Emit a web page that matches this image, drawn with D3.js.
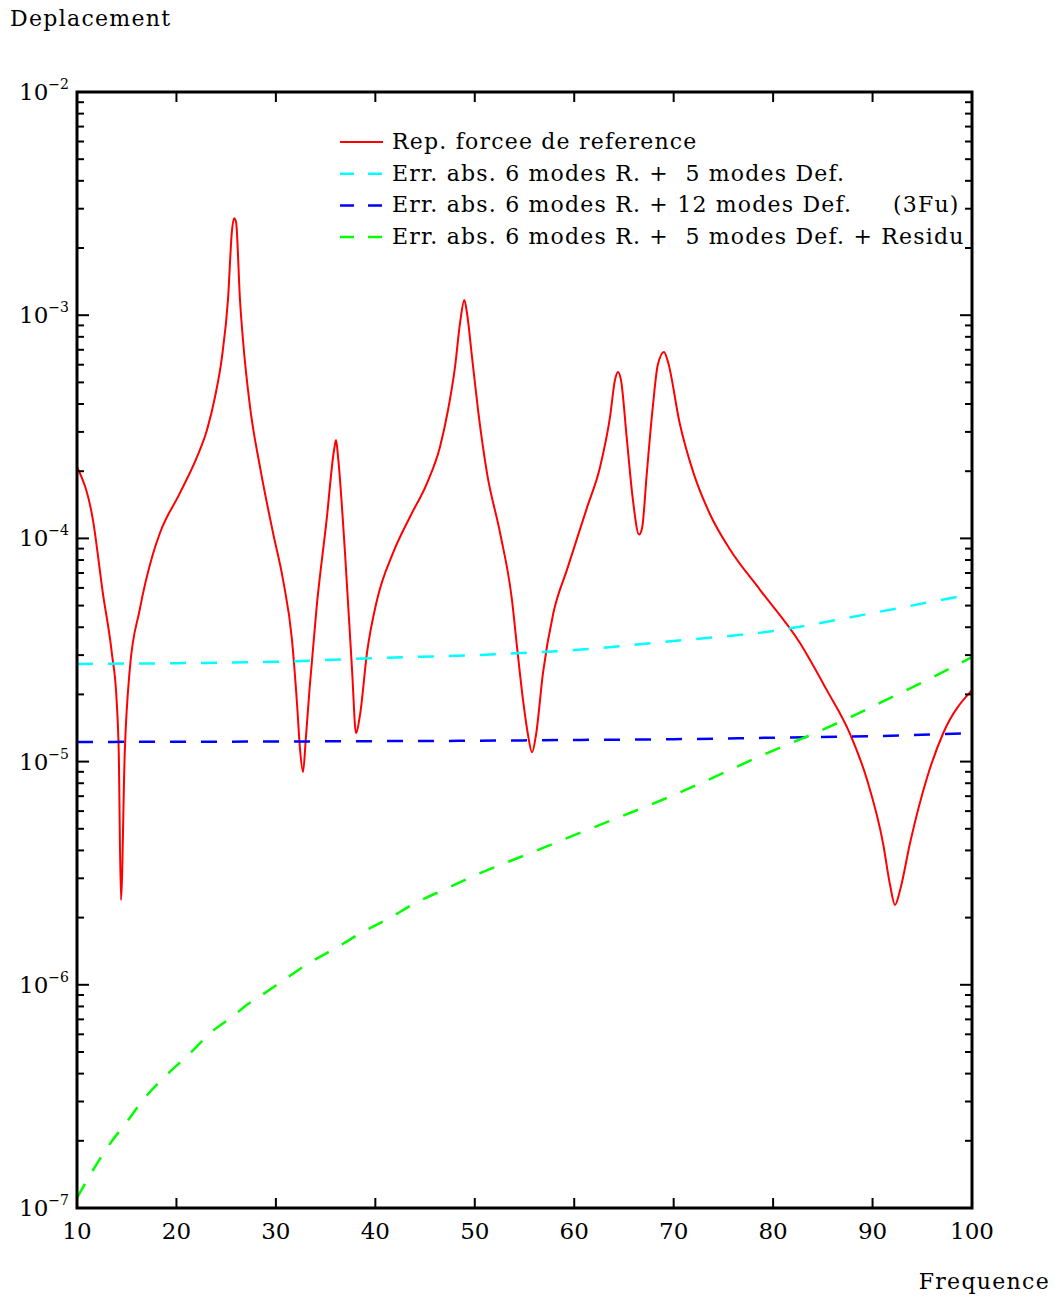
<!DOCTYPE html>
<html>
<head>
<meta charset="utf-8">
<script src="https://cdn.jsdelivr.net/npm/d3@7"></script>
<style>
  body { margin: 0; background: #fff; }
  text { font-family: "DejaVu Serif", serif; fill: #000; }
</style>
</head>
<body>
<div id="chart"></div>
<script>
// frequences (Hz) and reference response
let freqRef = [10, 11.6, 12.6, 13.5, 14.0, 14.2, 14.42, 14.8, 15.3, 16.3, 17.6, 18.35, 20.36, 22.07, 23.07, 23.88, 24.58, 25.18, 25.59, 25.79, 25.99, 26.39, 26.69, 27.4, 28.4, 29.71, 30.72, 31.62, 32.12, 32.43, 32.73, 33.0, 33.4, 34.1, 35.1, 35.85, 36.05, 36.25, 36.95, 37.66, 38.06, 38.46, 39.16, 40.17, 41.78, 43.49, 45.2, 46.5, 47.31, 48.01, 48.52, 48.95, 49.22, 49.72, 50.33, 51.23, 52.54, 53.74, 54.25, 54.85, 55.35, 55.76, 56.16, 56.86, 57.9, 59.3, 61.3, 62.6, 63.6, 64.1, 64.4, 64.7, 65.3, 65.9, 66.52, 66.82, 67.3, 67.9, 68.4, 69.03, 69.43, 70.6, 72.0, 73.7, 75.7, 78.7, 82.7, 85.4, 87.7, 89.45, 91.05, 91.76, 92.26, 92.77, 93.77, 95.5, 97.1, 100]
let repRef = [2.09e-4, 1.21e-4, 5.69e-5, 3.07e-5, 1.83e-5, 1.09e-5, 2.40e-6, 1.09e-5, 2.57e-5, 4.78e-5, 8.4e-5, 1.06e-4, 1.60e-4, 2.32e-4, 3.06e-4, 4.31e-4, 6.50e-4, 1.17e-3, 2.41e-3, 2.72e-3, 2.62e-3, 1.17e-3, 7.74e-4, 3.88e-4, 2.09e-4, 1.06e-4, 6.52e-5, 3.51e-5, 1.83e-5, 1.13e-5, 8.97e-6, 1.25e-5, 2.16e-5, 4.93e-5, 1.21e-4, 2.49e-4, 2.76e-4, 2.32e-4, 8.61e-5, 2.57e-5, 1.34e-5, 1.62e-5, 3.07e-5, 5.30e-5, 8.61e-5, 1.25e-4, 1.77e-4, 2.57e-4, 3.76e-4, 5.86e-4, 9.23e-4, 1.17e-3, 1.02e-3, 6.5e-4, 3.76e-4, 1.96e-4, 1.06e-4, 5.30e-5, 3.26e-5, 1.89e-5, 1.32e-5, 1.10e-5, 1.32e-5, 2.50e-5, 4.63e-5, 7.3e-5, 1.38e-4, 2.09e-4, 3.50e-4, 5.13e-4, 5.57e-4, 5.13e-4, 2.76e-4, 1.49e-4, 1.04e-4, 1.11e-4, 1.96e-4, 3.88e-4, 5.98e-4, 6.84e-4, 6.17e-4, 3.29e-4, 1.96e-4, 1.27e-4, 8.87e-5, 5.87e-5, 3.40e-5, 2.09e-5, 1.34e-5, 8.28e-6, 4.32e-6, 2.80e-6, 2.28e-6, 2.66e-6, 4.32e-6, 8.53e-6, 1.34e-5, 2.09e-5]

// erreurs absolues
let freqErr = [10, 20, 30, 40, 50, 60, 70, 80, 90, 100]
let err5 = [2.74e-5, 2.76e-5, 2.80e-5, 2.91e-5, 3.0e-5, 3.16e-5, 3.47e-5, 3.85e-5, 4.63e-5, 5.64e-5]
let err12 = [1.225e-5, 1.227e-5, 1.23e-5, 1.235e-5, 1.24e-5, 1.25e-5, 1.26e-5, 1.28e-5, 1.30e-5, 1.34e-5]
let freqRes = [10, 11.5, 13.2, 15, 16.8, 19, 21.3, 23.4, 26.1, 26.8, 28.3, 30.8, 33.3, 36, 38.7, 41.4, 44, 47, 50, 55, 60, 70, 80, 84, 88, 92, 96, 100]
let errRes = [1.11e-7, 1.45e-7, 1.91e-7, 2.43e-7, 3.11e-7, 3.94e-7, 4.90e-7, 6.08e-7, 7.48e-7, 7.96e-7, 8.82e-7, 1.05e-6, 1.25e-6, 1.46e-6, 1.72e-6, 1.99e-6, 2.32e-6, 2.68e-6, 3.09e-6, 3.80e-6, 4.68e-6, 7.08e-6, 1.12e-5, 1.33e-5, 1.60e-5, 1.95e-5, 2.38e-5, 2.94e-5]

let legendLabels = ["Rep. forcee de reference", "Err. abs. 6 modes R. +  5 modes Def.", "Err. abs. 6 modes R. + 12 modes Def.", "Err. abs. 6 modes R. +  5 modes Def. + Residu"]
let xTicks = [10, 20, 30, 40, 50, 60, 70, 80, 90, 100]
let yExps = [-2, -3, -4, -5, -6, -7]

let margin = { top: 92, right: 85, bottom: 90, left: 77 }
let width = 1057 - margin.left - margin.right
let height = 1298 - margin.top - margin.bottom

let svg = d3.select("#chart").append("svg")
    .attr("width", 1057)
    .attr("height", 1298)

let g = svg.append("g")
    .attr("transform", "translate(" + margin.left + "," + margin.top + ")")

let x = d3.scaleLinear().domain([10, 100]).range([0, width])
let y = d3.scaleLog().domain([1e-7, 1e-2]).range([height, 0])

g.append("clipPath").attr("id", "clip")
    .append("rect").attr("width", width).attr("height", height)

let line = d3.line()
    .x(function (d) { return x(d[0]) })
    .y(function (d) { return y(d[1]) })
    .curve(d3.curveMonotoneX)

let series = [
    { f: freqRef, v: repRef, color: "#ff0000", dash: null, w: 2 },
    { f: freqErr, v: err5, color: "#00ffff", dash: "16,15", w: 2.5 },
    { f: freqErr, v: err12, color: "#0000ff", dash: "16,15", w: 2.5 },
    { f: freqRes, v: errRes, color: "#00ff00", dash: "16,15", w: 2.5 }
]

let plot = g.append("g").attr("clip-path", "url(#clip)")
series.forEach(function (s) {
    plot.append("path")
        .datum(s.f.map(function (f, i) { return [f, s.v[i]] }))
        .attr("fill", "none")
        .attr("stroke", s.color)
        .attr("stroke-width", s.w)
        .attr("stroke-dasharray", s.dash)
        .attr("d", line)
})

// ticks: major and minor, inward on all four sides
let minor = []
for (let e = -7; e < -2; e++) {
    for (let k = 2; k <= 9; k++) minor.push(k * Math.pow(10, e))
}
let ticksG = g.append("g").attr("stroke", "#000").attr("stroke-width", 2)
minor.forEach(function (v) {
    ticksG.append("line").attr("x1", 0).attr("x2", 7).attr("y1", y(v)).attr("y2", y(v))
    ticksG.append("line").attr("x1", width).attr("x2", width - 7).attr("y1", y(v)).attr("y2", y(v))
})
yExps.forEach(function (e) {
    let v = Math.pow(10, e)
    ticksG.append("line").attr("x1", 0).attr("x2", 12).attr("y1", y(v)).attr("y2", y(v))
    ticksG.append("line").attr("x1", width).attr("x2", width - 12).attr("y1", y(v)).attr("y2", y(v))
})
xTicks.forEach(function (t) {
    ticksG.append("line").attr("x1", x(t)).attr("x2", x(t)).attr("y1", 0).attr("y2", 10)
    ticksG.append("line").attr("x1", x(t)).attr("x2", x(t)).attr("y1", height).attr("y2", height - 10)
})

g.append("rect")
    .attr("width", width).attr("height", height)
    .attr("fill", "none").attr("stroke", "#000").attr("stroke-width", 3)

// tick labels
g.selectAll(".xlab").data(xTicks).enter().append("text")
    .attr("x", function (d) { return x(d) })
    .attr("y", height + 31)
    .attr("text-anchor", "middle")
    .style("font-size", "23px")
    .text(function (d) { return d })

yExps.forEach(function (e) {
    let t = g.append("text")
        .attr("x", -8)
        .attr("y", y(Math.pow(10, e)) + 8)
        .attr("text-anchor", "end")
        .style("font-size", "23px")
    t.append("tspan").text("10")
    t.append("tspan").attr("dy", -11).style("font-size", "14px").text("\u2212" + (-e))
})

svg.append("text").attr("x", 10).attr("y", 26).style("font-size", "22px").style("letter-spacing", "1.3px").text("Deplacement")
svg.append("text").attr("x", 1050).attr("y", 1289).attr("text-anchor", "end").style("font-size", "22px").style("letter-spacing", "1.3px").text("Frequence")

// legend
let legend = g.append("g")
series.forEach(function (s, i) {
    let ly = 50 + i * 31.7
    legend.append("line")
        .attr("x1", 263).attr("x2", 306)
        .attr("y1", ly).attr("y2", ly)
        .attr("stroke", s.color).attr("stroke-width", s.w)
        .attr("stroke-dasharray", s.dash ? "14,14" : null)
    legend.append("text")
        .attr("x", 315).attr("y", ly + 7)
        .style("font-size", "22px")
        .style("letter-spacing", "1.2px")
        .attr("xml:space", "preserve")
        .text(legendLabels[i])
})
legend.append("text").attr("x", 816).attr("y", 50 + 2 * 31.7 + 7).style("font-size", "22px").style("letter-spacing", "1.2px").text("(3Fu)")
</script>
</body>
</html>
